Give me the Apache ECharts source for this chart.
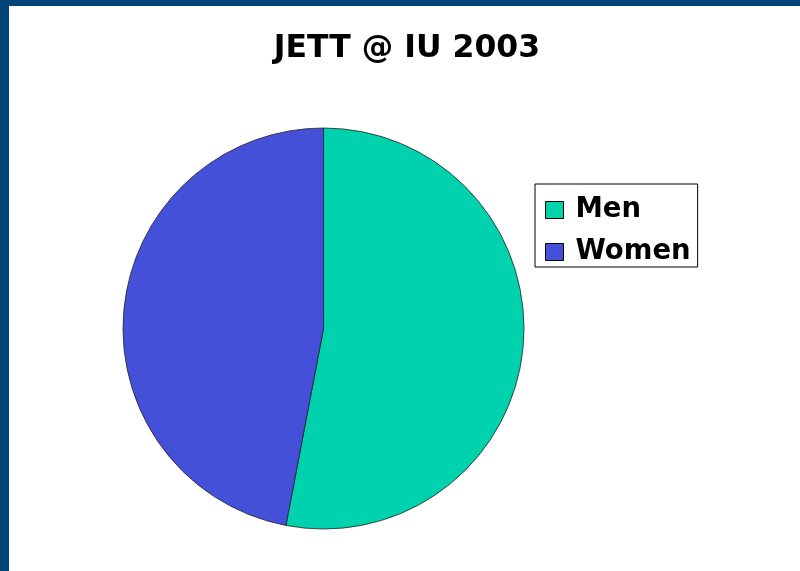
<!DOCTYPE html>
<html>
<head>
<meta charset="utf-8">
<script src="https://cdn.jsdelivr.net/npm/echarts@6/dist/echarts.min.js"></script>
<style>
html,body{margin:0;padding:0;background:#fff;}
#main{width:800px;height:571px;}
</style>
</head>
<body>
<div id="main"></div>
<script>
const categories = ['Men', 'Women'];
const values = [53, 47];
const colors = ['#00D2AD', '#4350D7'];
const titleText = 'JETT @ IU 2003';

const chart = echarts.init(document.getElementById('main'), null, {renderer: 'canvas'});
chart.setOption({
  backgroundColor: '#ffffff',
  animation: false,
  title: {
    text: titleText,
    left: 402, top: 28, textAlign: 'center',
    textStyle: {fontFamily: 'DejaVu Sans', fontWeight: 'bold', fontSize: 31.5, color: '#000'}
  },
  legend: {
    orient: 'vertical',
    left: 535, top: 184,
    data: categories,
    icon: 'rect',
    itemWidth: 18, itemHeight: 17,
    itemGap: 14,
    padding: [12, 7, 1, 10],
    borderColor: '#000', borderWidth: 1,
    backgroundColor: '#fff',
    itemStyle: {borderColor: '#000', borderWidth: 1},
    textStyle: {fontFamily: 'DejaVu Sans', fontWeight: 'bold', fontSize: 27.5, lineHeight: 28, color: '#000', padding: [0,0,0,7]}
  },
  graphic: [
    {type: 'rect', shape: {x: 0, y: 0, width: 800, height: 6}, style: {fill: '#02457A'}, z: 100},
    {type: 'rect', shape: {x: 0, y: 0, width: 9, height: 571}, style: {fill: '#02457A'}, z: 100}
  ],
  series: [{
    type: 'pie',
    center: [323.5, 328.5],
    radius: 200.5,
    startAngle: 90,
    clockwise: true,
    label: {show: false},
    labelLine: {show: false},
    emphasis: {disabled: true},
    itemStyle: {borderColor: '#222', borderWidth: 0.8},
    data: categories.map((c, i) => ({name: c, value: values[i], itemStyle: {color: colors[i]}}))
  }]
});
</script>
</body>
</html>
